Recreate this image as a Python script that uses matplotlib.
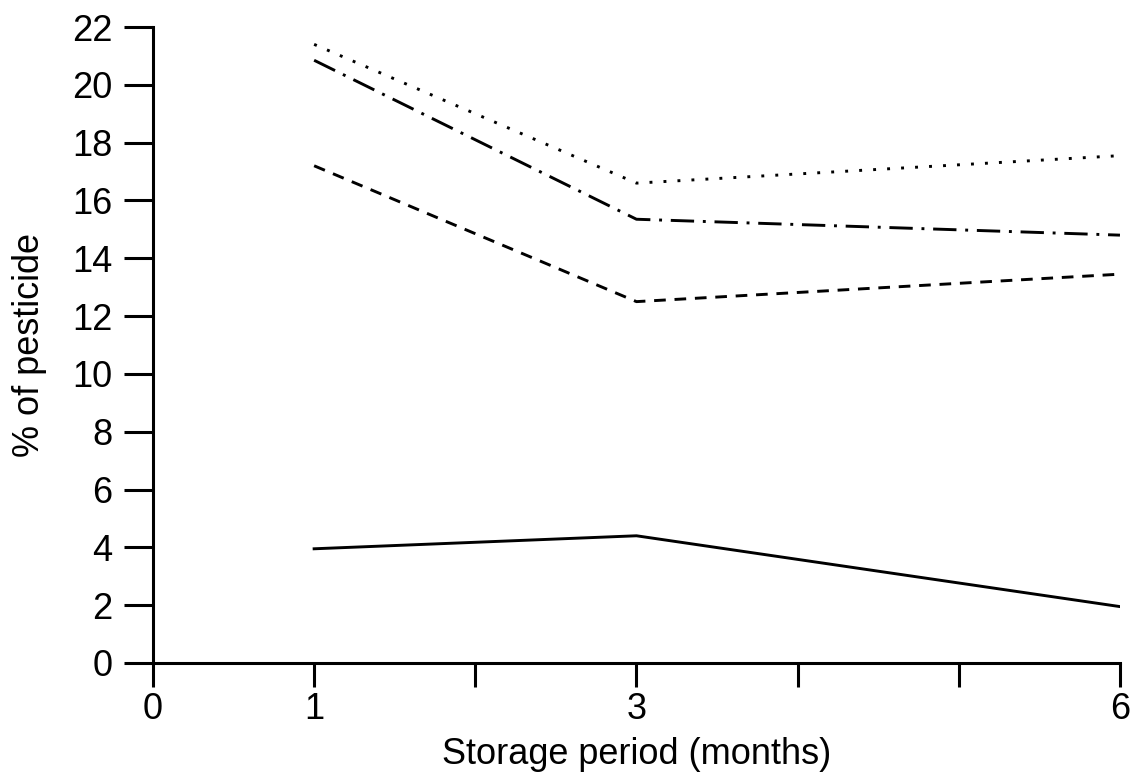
import matplotlib
matplotlib.use("Agg")
import matplotlib.pyplot as plt

plt.rcParams['font.family'] = ['Liberation Sans', 'DejaVu Sans']

months = [1, 3, 6]
series_solid = [3.95, 4.4, 1.95]
series_dashed = [17.2, 12.5, 13.45]
series_dashdot = [20.85, 15.35, 14.8]
series_dotted = [21.4, 16.6, 17.55]

xtick_pos = [0, 1, 2, 3, 4, 5, 6]
xtick_labels = ['0', '1', '', '3', '', '', '6']
ytick_pos = list(range(0, 23, 2))

fig = plt.figure(figsize=(11.33, 7.83), dpi=100)
ax = fig.add_axes([0.135, 0.1533, 0.8535, 0.8122])

lw = 2.1
ax.plot(months, series_solid, color='black', lw=lw, linestyle='-')
ax.plot(months, series_dashed, color='black', lw=lw, linestyle=(0, (4.0, 3.0)))
ax.plot(months, series_dashdot, color='black', lw=lw, linestyle=(0, (8, 3.0, 1, 3.0)))
ax.plot(months, series_dotted, color='black', lw=lw, linestyle=(0, (1, 3.8)))

ax.set_xlim(0, 6)
ax.set_ylim(0, 22)
ax.set_xticks(xtick_pos)
ax.set_xticklabels(xtick_labels)
ax.set_yticks(ytick_pos)
ax.tick_params(axis='both', direction='out', length=21, width=2.2, labelsize=26, pad=8, colors='black')
ax.tick_params(axis='x', length=17, pad=4)

for s in ['top', 'right']:
    ax.spines[s].set_visible(False)
for s in ['left', 'bottom']:
    ax.spines[s].set_linewidth(2.2)

ax.set_xlabel('Storage period (months)', fontsize=26, labelpad=7)
ax.set_ylabel('% of pesticide', fontsize=26, labelpad=18)

fig.savefig('out.png', dpi=100)
